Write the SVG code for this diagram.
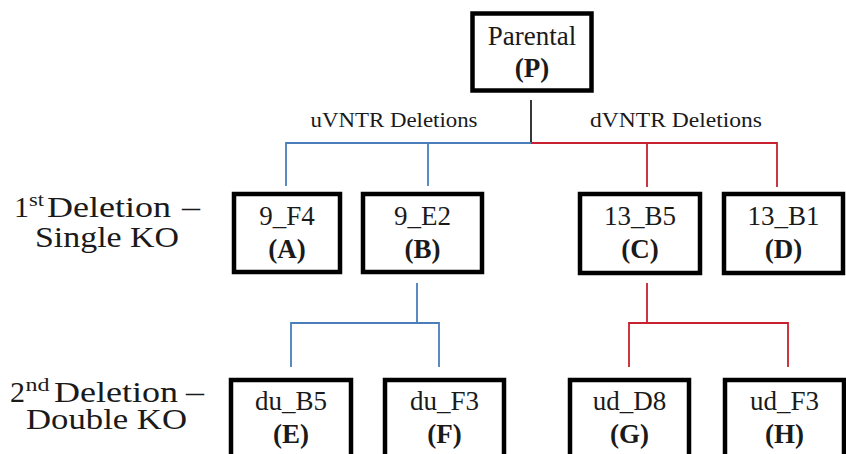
<svg xmlns="http://www.w3.org/2000/svg" width="846" height="454" viewBox="0 0 846 454">
<style>
text{font-family:'Liberation Serif','Times New Roman',serif;fill:#1a1a1a}
.box{fill:#fff;stroke:#000;stroke-width:4.5}
.t{font-size:27px;text-anchor:middle}
.b{font-weight:bold}
.lbl{font-size:21px;text-anchor:middle}
.row{font-size:30px}
.sup{font-size:19px}
.blue{fill:none;stroke:#4a7ebb;stroke-width:1.8}
.red{fill:none;stroke:#c8202e;stroke-width:1.8}
.blk{fill:none;stroke:#222;stroke-width:1.8}
</style>
<rect width="846" height="454" fill="#fff"/>
<g id="connectors">
<path class="blk" d="M531,100 V143"/>
<path class="blue" d="M531,143 H286 V186 M428,143 V186"/>
<path class="red" d="M531,143 H777 V187 M647,143 V187"/>
<path class="blue" d="M417,283 V323 M291,367 V323 H439 V367"/>
<path class="red" d="M647,283 V323 M629,367 V323 H788 V367"/>
</g>
<g id="labels">
<text class="lbl" x="394" y="127" textLength="167" lengthAdjust="spacingAndGlyphs">uVNTR Deletions</text>
<text class="lbl" x="676" y="127" textLength="172" lengthAdjust="spacingAndGlyphs">dVNTR Deletions</text>
<text class="row" x="14" y="217">1<tspan class="sup" x="29" y="206" textLength="15" lengthAdjust="spacingAndGlyphs">st</tspan><tspan x="47" y="217" textLength="124" lengthAdjust="spacingAndGlyphs">Deletion</tspan><tspan x="182" y="217" textLength="18" lengthAdjust="spacingAndGlyphs">–</tspan></text>
<text class="row" x="35" y="247" textLength="144" lengthAdjust="spacingAndGlyphs">Single KO</text>
<text class="row" x="10" y="402">2<tspan class="sup" x="25.5" y="391" textLength="24" lengthAdjust="spacingAndGlyphs">nd</tspan><tspan x="54" y="402" textLength="124" lengthAdjust="spacingAndGlyphs">Deletion</tspan><tspan x="186" y="402" textLength="18" lengthAdjust="spacingAndGlyphs">–</tspan></text>
<text class="row" x="26" y="429" textLength="161" lengthAdjust="spacingAndGlyphs">Double KO</text>
</g>
<g id="nodeP">
<rect class="box" x="472.5" y="13.5" width="119" height="77" stroke-width="5"/>
<text class="t" x="532" y="45">Parental</text>
<text class="t b" x="532" y="77">(P)</text>
</g>
<g id="nodeA">
<rect class="box" x="234" y="194" width="106" height="78"/>
<text class="t" x="287" y="225">9_F4</text>
<text class="t b" x="287" y="258">(A)</text>
</g>
<g id="nodeB">
<rect class="box" x="363" y="194" width="119" height="78"/>
<text class="t" x="422.5" y="225">9_E2</text>
<text class="t b" x="422.5" y="258">(B)</text>
</g>
<g id="nodeC">
<rect class="box" x="580" y="194" width="120" height="79"/>
<text class="t" x="640" y="225">13_B5</text>
<text class="t b" x="640" y="258">(C)</text>
</g>
<g id="nodeD">
<rect class="box" x="724" y="194" width="119" height="79"/>
<text class="t" x="783.5" y="225">13_B1</text>
<text class="t b" x="783.5" y="258">(D)</text>
</g>
<g id="nodeE">
<rect class="box" x="231" y="380" width="120" height="90"/>
<text class="t" x="291" y="410">du_B5</text>
<text class="t b" x="291" y="443">(E)</text>
</g>
<g id="nodeF">
<rect class="box" x="385" y="380" width="119" height="90"/>
<text class="t" x="444.5" y="410">du_F3</text>
<text class="t b" x="444.5" y="443">(F)</text>
</g>
<g id="nodeG">
<rect class="box" x="570" y="380" width="119" height="90"/>
<text class="t" x="629.5" y="410">ud_D8</text>
<text class="t b" x="629.5" y="443">(G)</text>
</g>
<g id="nodeH">
<rect class="box" x="725" y="380" width="119" height="90"/>
<text class="t" x="784.5" y="410">ud_F3</text>
<text class="t b" x="784.5" y="443">(H)</text>
</g>
</svg>
